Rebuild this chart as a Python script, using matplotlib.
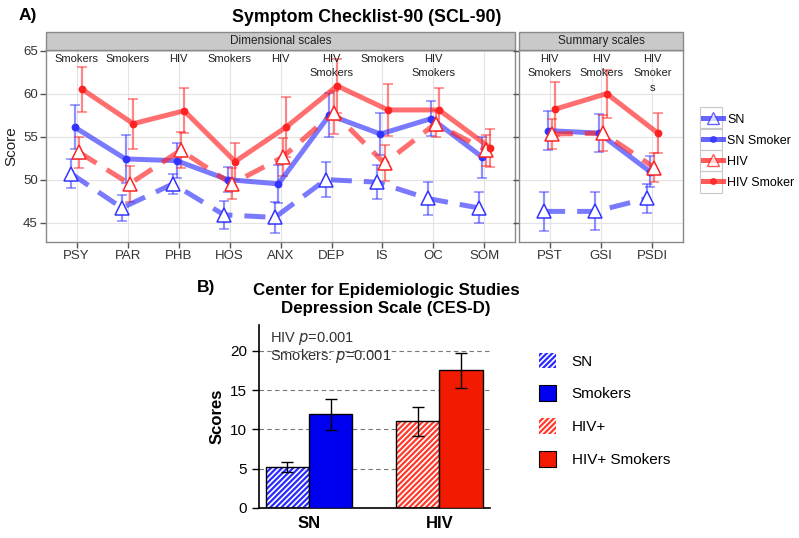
import numpy as np
import matplotlib
matplotlib.use("Agg")
import matplotlib.pyplot as plt
from matplotlib.patches import Rectangle, Patch
from matplotlib.lines import Line2D

plt.rcParams['font.family'] = ['Liberation Sans', 'DejaVu Sans']

# ---- Panel A data (SCL-90) ----
dim_scales = ['PSY', 'PAR', 'PHB', 'HOS', 'ANX', 'DEP', 'IS', 'OC', 'SOM']
sum_scales = ['PST', 'GSI', 'PSDI']
groups = ['SN', 'SN Smoker', 'HIV', 'HIV Smoker']

dim_mean = {
    'SN':         [50.7, 46.7, 49.5, 45.9, 45.6, 50.0, 49.7, 47.8, 46.7],
    'SN Smoker':  [56.1, 52.4, 52.2, 50.0, 49.5, 57.5, 55.3, 57.1, 52.6],
    'HIV':        [53.2, 49.5, 53.4, 49.5, 52.6, 57.8, 51.9, 56.5, 53.4],
    'HIV Smoker': [60.5, 56.5, 58.0, 52.1, 56.1, 60.9, 58.1, 58.1, 53.7],
}
dim_err = {
    'SN':         [1.7, 1.5, 1.2, 1.6, 1.8, 2.0, 2.0, 1.9, 1.8],
    'SN Smoker':  [2.6, 2.8, 2.0, 1.5, 2.2, 2.6, 2.4, 2.0, 2.4],
    'HIV':        [1.8, 2.1, 2.1, 1.8, 2.2, 2.5, 2.1, 1.6, 1.8],
    'HIV Smoker': [2.6, 2.9, 2.6, 2.2, 3.5, 3.1, 3.0, 2.5, 2.2],
}
sum_mean = {
    'SN':         [46.3, 46.3, 47.8],
    'SN Smoker':  [55.7, 55.4, 50.9],
    'HIV':        [55.3, 55.4, 51.4],
    'HIV Smoker': [58.2, 60.0, 55.4],
}
sum_err = {
    'SN':         [2.3, 2.2, 1.7],
    'SN Smoker':  [2.3, 2.2, 1.8],
    'HIV':        [1.8, 2.1, 1.7],
    'HIV Smoker': [3.1, 2.8, 2.3],
}
dim_notes = ['Smokers', 'Smokers', 'HIV', 'Smokers', 'HIV', 'HIV\nSmokers',
             'Smokers', 'HIV\nSmokers', '']
sum_notes = ['HIV\nSmokers', 'HIV\nSmokers', 'HIV\nSmoker\ns']

# ---- Panel B data (CES-D) ----
cesd_groups = ['SN', 'HIV']
cesd_nonsmoker = [5.2, 11.0]
cesd_nonsmoker_err = [0.6, 1.8]
cesd_smoker = [11.9, 17.5]
cesd_smoker_err = [2.0, 2.25]
cesd_labels = ['SN', 'Smokers', 'HIV+', 'HIV+ Smokers']

dash = (0, (4.2, 2.4))
style = {
    'SN':         dict(color='#3333ff', ls=dash, marker='^', mfc='white', ms=9.5, off=-0.11),
    'SN Smoker':  dict(color='#3333ff', ls='-', marker='o', mfc=None, ms=4.5, off=-0.04),
    'HIV':        dict(color='#ff2222', ls=dash, marker='^', mfc='white', ms=9.5, off=0.04),
    'HIV Smoker': dict(color='#ff2222', ls='-', marker='o', mfc=None, ms=4.5, off=0.11),
}

fig = plt.figure(figsize=(7.99, 5.38), dpi=100)


def draw_panel(ax, names, mean, err, notes, strip_title, show_y):
    x = np.arange(1, len(names) + 1)
    for g in groups:
        s = style[g]
        xs = x + s['off']
        ax.errorbar(xs, mean[g], yerr=err[g], fmt='none', ecolor=s['color'],
                    alpha=0.55, elinewidth=1.6, capsize=3.5, capthick=1.2, zorder=2)
        ax.plot(xs, mean[g], color=s['color'], ls=s['ls'], lw=3.6, alpha=0.65,
                solid_capstyle='butt', dash_capstyle='butt', zorder=3)
        mfc = s['mfc'] if s['mfc'] else s['color']
        ax.plot(xs, mean[g], ls='none', marker=s['marker'], ms=s['ms'],
                mfc=mfc, mec=s['color'], mew=1.1, zorder=4)
    for xi, t in zip(x, notes):
        if t:
            ax.text(xi, 64.6, t, ha='center', va='top', fontsize=8,
                    color='#222222', linespacing=1.55, zorder=5)
    ax.set_xlim(0.4, len(names) + 0.6)
    ax.set_ylim(42.76, 65.08)
    ax.set_xticks(x)
    ax.set_xticklabels(names, fontsize=9.5, color='#333333')
    ax.set_yticks([45, 50, 55, 60, 65])
    if show_y:
        ax.set_yticklabels(['45', '50', '55', '60', '65'], fontsize=9.5, color='#333333')
        ax.set_ylabel('Score', fontsize=11, color='#222222', labelpad=3)
    else:
        ax.tick_params(axis='y', length=0, labelleft=False)
    ax.grid(True, color='#e3e3e3', lw=0.8, zorder=0)
    ax.set_axisbelow(True)
    for sp in ax.spines.values():
        sp.set_color('#8a8a8a')
        sp.set_linewidth(1.0)
    ax.tick_params(axis='both', color='#555555', length=4, width=1, pad=2)
    # strip on top
    ax.add_patch(Rectangle((0, 1.0), 1, 0.094, transform=ax.transAxes,
                           facecolor='#c9c9c9', edgecolor='#8a8a8a', lw=1.0,
                           clip_on=False, zorder=5))
    ax.text(0.5, 1.047, strip_title, transform=ax.transAxes, ha='center',
            va='center', fontsize=8.5, color='#222222', zorder=6)


ax1 = fig.add_axes([0.0576, 0.5505, 0.587, 0.3567])
draw_panel(ax1, dim_scales, dim_mean, dim_err, dim_notes, 'Dimensional scales', True)
ax2 = fig.add_axes([0.6496, 0.5505, 0.2053, 0.3567])
draw_panel(ax2, sum_scales, sum_mean, sum_err, sum_notes, 'Summary scales', False)

fig.text(0.459, 0.968, 'Symptom Checklist-90 (SCL-90)', ha='center', va='center',
         fontsize=12.8, fontweight='bold')
fig.text(0.023, 0.972, 'A)', ha='left', va='center', fontsize=12.5, fontweight='bold')

handles = []
for g in groups:
    s = style[g]
    mfc = s['mfc'] if s['mfc'] else s['color']
    handles.append(Line2D([], [], color=s['color'], lw=3.6, alpha=0.75, ls='-',
                          marker=s['marker'], ms=s['ms'] * 0.9, mfc=mfc, mec=s['color']))
fig.legend(handles, groups, loc='upper left', bbox_to_anchor=(0.8672, 0.807),
           fontsize=9, frameon=False, handlelength=1.6, handletextpad=0.35,
           labelspacing=0.72, borderpad=0.3)
# key boxes of the legend
for k in range(4):
    fig.patches.append(Rectangle((700 / 799, 1 - (107 + 21.5 * (k + 1)) / 538),
                                 22 / 799, 21.5 / 538, transform=fig.transFigure,
                                 fill=False, edgecolor='#c8c8c8', lw=0.8))

# ---- Panel B ----
ax3 = fig.add_axes([0.3242, 0.0563, 0.2891, 0.3396])
gx = np.arange(len(cesd_groups))
bw = 0.333
hatch_col = ['#2a2aff', '#ff3a2a']
solid_col = ['#0000f0', '#f21a00']
plt.rcParams['hatch.linewidth'] = 1.6
for i in gx:
    ax3.bar(gx[i] - bw / 2, cesd_nonsmoker[i], bw, color='white', edgecolor=hatch_col[i],
            hatch='//////', lw=0, zorder=2)
    ax3.bar(gx[i] - bw / 2, cesd_nonsmoker[i], bw, fill=False, edgecolor='black', lw=1, zorder=3)
    ax3.bar(gx[i] + bw / 2, cesd_smoker[i], bw, color=solid_col[i], edgecolor='black', lw=1, zorder=3)
ax3.errorbar(gx - bw / 2, cesd_nonsmoker, yerr=cesd_nonsmoker_err, fmt='none',
             ecolor='black', elinewidth=1, capsize=4, zorder=4)
ax3.errorbar(gx + bw / 2, cesd_smoker, yerr=cesd_smoker_err, fmt='none',
             ecolor='black', elinewidth=1, capsize=4, zorder=4)
ax3.set_xlim(-0.384, 1.389)
ax3.set_ylim(0, 23.3)
ax3.set_yticks([0, 5, 10, 15, 20])
ax3.set_yticklabels(['0', '5', '10', '15', '20'], fontsize=11)
ax3.set_xticks(gx)
ax3.set_xticklabels(cesd_groups, fontsize=12, fontweight='bold')
ax3.tick_params(axis='x', length=0, pad=6)
ax3.tick_params(axis='y', length=5, width=1, direction='out')
for yv in [5, 10, 15, 20]:
    ax3.axhline(yv, color='#777777', lw=0.8, ls=(0, (4, 3)), zorder=1)
ax3.spines['top'].set_visible(False)
ax3.spines['right'].set_visible(False)
ax3.spines['left'].set_linewidth(1.2)
ax3.spines['bottom'].set_linewidth(1.2)
ax3.set_ylabel('Scores', fontsize=12, fontweight='bold', labelpad=4)
ax3.text(-0.30, 21.6, 'HIV $\\it{p}$=0.001', fontsize=10.5, color='#333333', va='center')
ax3.text(-0.30, 19.3, 'Smokers: $\\it{p}$=0.001', fontsize=10.5, color='#333333', va='center')

fig.text(0.483, 0.444, 'Center for Epidemiologic Studies\nDepression Scale (CES-D)',
         ha='center', va='center', fontsize=12.2, fontweight='bold', linespacing=1.25)
fig.text(0.246, 0.465, 'B)', ha='left', va='center', fontsize=12.5, fontweight='bold')

leg_handles = [
    Patch(facecolor='white', edgecolor=hatch_col[0], hatch='//////', lw=0),
    Patch(facecolor=solid_col[0], edgecolor='black', lw=0.8),
    Patch(facecolor='white', edgecolor=hatch_col[1], hatch='//////', lw=0),
    Patch(facecolor=solid_col[1], edgecolor='black', lw=0.8),
]
fig.legend(leg_handles, cesd_labels, loc='upper left', bbox_to_anchor=(0.658, 0.37),
           fontsize=11, frameon=False, handlelength=1.1, handleheight=1.2,
           handletextpad=1.0, labelspacing=1.1)

fig.savefig('out.png', dpi=100)
